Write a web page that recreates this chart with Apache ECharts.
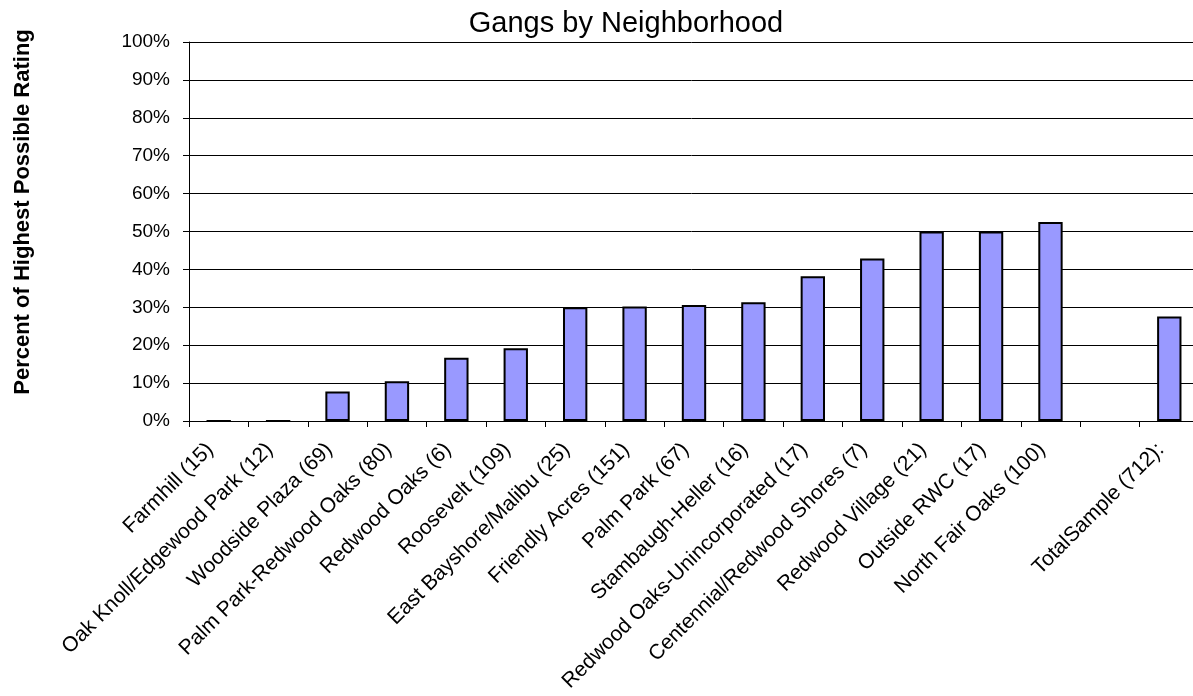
<!DOCTYPE html>
<html>
<head>
<meta charset="utf-8">
<script src="https://cdn.jsdelivr.net/npm/echarts@6/dist/echarts.min.js"></script>
<style>
  html, body { margin: 0; padding: 0; background: #fff; }
  #chart { width: 1193px; height: 696px; }
</style>
</head>
<body>
<div id="chart"></div>
<script>
// Neighborhoods (sample size in parentheses); one blank slot separates the total
const categories = [
  'Farmhill (15)', 'Oak Knoll/Edgewood Park (12)', 'Woodside Plaza (69)',
  'Palm Park-Redwood Oaks (80)', 'Redwood Oaks (6)', 'Roosevelt (109)',
  'East Bayshore/Malibu (25)', 'Friendly Acres (151)', 'Palm Park (67)',
  'Stambaugh-Heller (16)', 'Redwood Oaks-Unincorporated (17)',
  'Centennial/Redwood Shores (7)', 'Redwood Village (21)', 'Outside RWC (17)',
  'North Fair Oaks (100)', '', 'TotalSample (712):'
];

// Percent of highest possible rating
const ratings = [
  0, 0, 7.8, 10.5, 16.7, 19.2, 30.0, 30.2, 30.6, 31.3, 38.2, 42.9,
  50.0, 50.0, 52.5, null, 27.6
];

const yTicks = { min: 0, max: 100, interval: 10 };

const FONT = '"Liberation Sans", Arial, sans-serif';

const chart = echarts.init(document.getElementById('chart'), null, { renderer: 'canvas' });

chart.setOption({
  animation: false,
  backgroundColor: '#ffffff',
  title: {
    text: 'Gangs by Neighborhood',
    left: 621,
    top: 4,
    textAlign: 'center',
    textStyle: { fontFamily: FONT, fontSize: 29, fontWeight: 'normal', color: '#000' }
  },
  graphic: [{
    type: 'text',
    x: 23,
    y: 212,
    rotation: Math.PI / 2,
    style: {
      text: 'Percent of Highest Possible Rating',
      fontFamily: FONT,
      fontSize: 22,
      fontWeight: 'bold',
      fill: '#000',
      align: 'center',
      verticalAlign: 'middle'
    }
  }],
  grid: {
    left: 189, top: 42, width: 1010, height: 379,
    containLabel: false,
    outerBoundsMode: 'none'
  },
  xAxis: {
    type: 'category',
    data: categories,
    boundaryGap: true,
    axisLine: { show: true, lineStyle: { color: '#000', width: 1 } },
    axisTick: { show: true, alignWithLabel: false, length: 6, lineStyle: { color: '#000' } },
    axisLabel: {
      interval: 0,
      rotate: 45,
      margin: 17,
      padding: [0, 12, 0, 0],
      fontFamily: FONT,
      fontSize: 21,
      color: '#000'
    },
    splitLine: { show: false }
  },
  yAxis: {
    type: 'value',
    min: yTicks.min,
    max: yTicks.max,
    interval: yTicks.interval,
    axisLine: { show: true, lineStyle: { color: '#000', width: 1 } },
    axisTick: { show: true, length: 6, lineStyle: { color: '#000' } },
    axisLabel: {
      formatter: '{value}%',
      margin: 19,
      fontFamily: FONT,
      fontSize: 19,
      color: '#000'
    },
    splitLine: { show: true, lineStyle: { color: '#000', width: 1 } }
  },
  series: [{
    type: 'bar',
    data: ratings,
    barWidth: '41%',
    itemStyle: {
      color: '#9999FF',
      borderColor: '#000',
      borderWidth: 2
    }
  }]
});
</script>
</body>
</html>
